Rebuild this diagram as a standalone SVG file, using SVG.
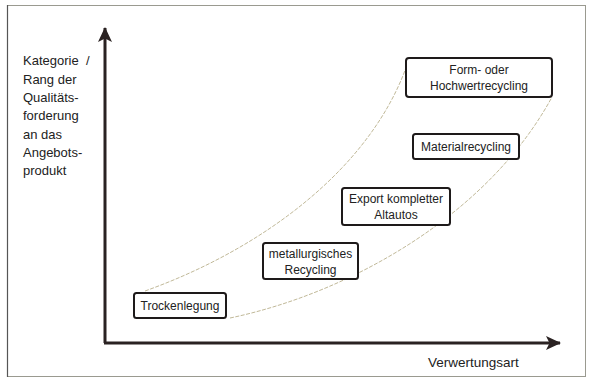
<svg xmlns="http://www.w3.org/2000/svg" width="591" height="379" viewBox="0 0 591 379">
<style>
  .box { fill: #ffffff; stroke: #1e1a1a; stroke-width: 2; }
  .t { font-family: "Liberation Sans", Arial, sans-serif; font-size: 12px; fill: #222; text-anchor: middle; }
  .lbl { font-family: "Liberation Sans", Arial, sans-serif; font-size: 13px; fill: #222; }
  .axis { stroke: #2a2222; stroke-width: 3; fill: none; }
  .band { stroke: #b9b08c; stroke-width: 0.9; fill: none; stroke-dasharray: 4 1.5; }
</style>
<defs>
  <marker id="ah" viewBox="0 0 15 14" refX="14" refY="7" markerWidth="15" markerHeight="14" markerUnits="userSpaceOnUse" orient="auto">
    <path d="M0,0 L15,7 L0,14 L3.5,7 Z" fill="#2a2222"/>
  </marker>
</defs>
<rect x="0" y="0" width="591" height="379" fill="#ffffff"/>
<rect x="7.5" y="5.5" width="578" height="371" fill="none" stroke="#9a9a90" stroke-width="1"/>
<line x1="7.5" y1="5" x2="7.5" y2="377" stroke="#555" stroke-width="1.2"/>

<g id="axes">
  <polyline class="axis" points="105,343 105,28" marker-end="url(#ah)"/>
  <polyline class="axis" points="104,343 560,343" marker-end="url(#ah)"/>
</g>

<g id="axis-labels">
  <text class="lbl" x="23" y="65">Kategorie<tspan x="86">/</tspan></text>
  <text class="lbl" x="23" y="83.5">Rang der</text>
  <text class="lbl" x="23" y="102">Qualitäts-</text>
  <text class="lbl" x="23" y="120">forderung</text>
  <text class="lbl" x="23" y="138.5">an das</text>
  <text class="lbl" x="23" y="157">Angebots-</text>
  <text class="lbl" x="23" y="175">produkt</text>
  <text class="lbl" x="428" y="367" style="font-size:13.5px">Verwertungsart</text>
</g>

<g id="connectors">
  <path class="band" d="M145,291 C260,250 370,170 407,65"/>
  <path class="band" d="M230,318 C350,293 488,215 552,97"/>
</g>

<g id="trockenlegung">
  <rect class="box" x="134" y="293" width="92" height="25" rx="2.5"/>
  <text class="t" x="180" y="310">Trockenlegung</text>
</g>
<g id="metallurgisches-recycling">
  <rect class="box" x="263" y="243" width="95" height="36" rx="2.5"/>
  <text class="t" x="310.5" y="258">metallurgisches</text>
  <text class="t" x="310.5" y="274">Recycling</text>
</g>
<g id="export-altautos">
  <rect class="box" x="342" y="188" width="108" height="37" rx="2.5"/>
  <text class="t" x="396" y="203">Export kompletter</text>
  <text class="t" x="396" y="219">Altautos</text>
</g>
<g id="materialrecycling">
  <rect class="box" x="413" y="134" width="106" height="25" rx="2.5"/>
  <text class="t" x="466" y="151">Materialrecycling</text>
</g>
<g id="hochwertrecycling">
  <rect class="box" x="406" y="58" width="146" height="39" rx="3"/>
  <text class="t" x="479" y="74">Form- oder</text>
  <text class="t" x="479" y="90">Hochwertrecycling</text>
</g>
</svg>
